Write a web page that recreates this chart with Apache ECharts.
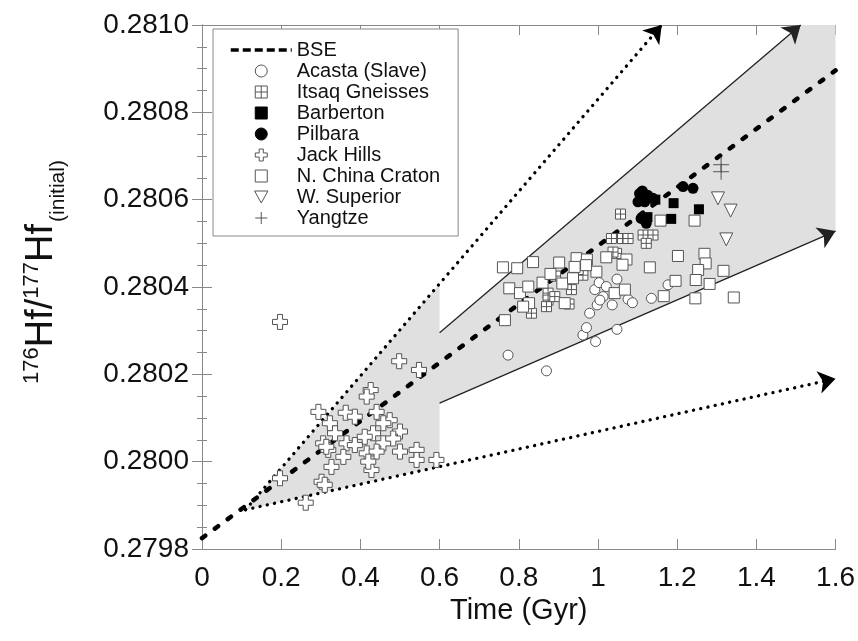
<!DOCTYPE html>
<html>
<head>
<meta charset="utf-8">
<script src="https://cdn.jsdelivr.net/npm/echarts@6/dist/echarts.min.js"></script>
<style>html,body{margin:0;padding:0;background:#fff;}#c{width:858px;height:641px;}</style>
</head>
<body>
<div id="c"></div>
<script>
// ---- axis ticks ----
const xTicks = [0, 0.2, 0.4, 0.6, 0.8, 1, 1.2, 1.4, 1.6];
const yTicks = [0.2798, 0.2800, 0.2802, 0.2804, 0.2806, 0.2808, 0.2810];

// ---- reference lines ----
const bseT = [0, 1.6];
const bseV = [0.279825, 0.280896];
const upperDotT = [0.11, 1.161];
const upperDotV = [0.27989, 0.2810];
const lowerDotT = [0.11, 1.6];
const lowerDotV = [0.27989, 0.28019];
const upperSolidT = [0.6, 1.512];
const upperSolidV = [0.280295, 0.2810];
const lowerSolidT = [0.6, 1.6];
const lowerSolidV = [0.280134, 0.280528];

// ---- shaded field (polygon vertices) ----
const fanT = [0.11, 0.6, 0.6, 1.512, 1.6, 1.6, 0.6, 0.6];
const fanV = [0.27989, 0.280407, 0.280295, 0.2810, 0.2810, 0.280528, 0.280134, 0.27999];

// ---- data sets ----
const acastaT = [0.773, 0.870, 0.962, 0.971, 0.994, 1.048, 0.979, 0.998, 1.013, 1.036, 0.992, 1.003, 1.048, 1.021, 1.076, 1.087, 1.135, 1.177, 1.005];
const acastaV = [0.280244, 0.280208, 0.280290, 0.280307, 0.280275, 0.280303, 0.280340, 0.280359, 0.280378, 0.280359, 0.280394, 0.280410, 0.280418, 0.280401, 0.280372, 0.280364, 0.280374, 0.280405, 0.280370];

const itsaqT = [1.057, 1.062, 1.076, 1.114, 1.139, 1.122, 1.047, 0.893, 0.962, 0.933, 0.874, 0.874, 0.891, 0.927, 0.832, 0.870, 1.034, 1.038, 0.950];
const itsaqV = [0.280567, 0.280511, 0.280511, 0.280519, 0.280519, 0.280500, 0.280477, 0.280425, 0.280427, 0.280394, 0.280386, 0.280370, 0.280378, 0.280361, 0.280340, 0.280355, 0.280511, 0.280480, 0.280440];

const barbertonT = [1.191, 1.255, 1.185, 1.125, 1.145];
const barbertonV = [0.280592, 0.280578, 0.280556, 0.280560, 0.280600];

const pilbaraT = [1.105, 1.126, 1.101, 1.139, 1.118, 1.109, 1.122, 1.215, 1.240, 1.112];
const pilbaraV = [0.280614, 0.280610, 0.280595, 0.280603, 0.280595, 0.280557, 0.280546, 0.280630, 0.280626, 0.280620];

const jackT = [0.197, 0.498, 0.548, 0.426, 0.416, 0.294, 0.363, 0.386, 0.441, 0.474, 0.323, 0.336, 0.500, 0.432, 0.411, 0.306, 0.365, 0.386, 0.458, 0.483, 0.319, 0.357, 0.416, 0.441, 0.500, 0.542, 0.542, 0.592, 0.428, 0.327, 0.197, 0.302, 0.310, 0.262, 0.420, 0.458, 0.314];
const jackV = [0.280320, 0.280230, 0.280210, 0.280164, 0.280149, 0.280114, 0.280112, 0.280103, 0.280114, 0.280095, 0.280088, 0.280065, 0.280069, 0.280065, 0.280057, 0.280042, 0.280042, 0.280038, 0.280042, 0.280053, 0.280027, 0.280011, 0.280019, 0.280023, 0.280023, 0.280027, 0.280004, 0.280004, 0.279981, 0.279988, 0.279962, 0.279954, 0.279947, 0.279906, 0.280000, 0.280088, 0.280034];

const chinaT = [0.760, 0.796, 0.836, 0.902, 0.946, 0.972, 1.021, 1.072, 1.131, 1.202, 1.269, 1.272, 1.253, 1.317, 1.196, 1.247, 1.282, 1.166, 1.246, 1.343, 1.158, 1.244, 0.776, 0.803, 0.824, 0.826, 0.811, 0.765, 0.916, 0.910, 0.937, 0.941, 0.996, 1.042, 1.068, 1.062, 0.970, 0.860, 0.880];
const chinaV = [0.280445, 0.280443, 0.280457, 0.280456, 0.280466, 0.280463, 0.280468, 0.280463, 0.280445, 0.280471, 0.280476, 0.280454, 0.280439, 0.280437, 0.280414, 0.280416, 0.280407, 0.280379, 0.280374, 0.280376, 0.280552, 0.280552, 0.280397, 0.280386, 0.280401, 0.280363, 0.280355, 0.280324, 0.280363, 0.280408, 0.280420, 0.280446, 0.280435, 0.280386, 0.280394, 0.280451, 0.280450, 0.280410, 0.280430];

const superiorT = [1.303, 1.335, 1.324];
const superiorV = [0.280603, 0.280575, 0.280509];

const yangtzeT = [1.311, 1.311];
const yangtzeV = [0.280680, 0.280664];

const names = ['BSE', 'Acasta (Slave)', 'Itsaq Gneisses', 'Barberton', 'Pilbara', 'Jack Hills', 'N. China Craton', 'W. Superior', 'Yangtze'];

// ---- helpers ----
const zip = (a, b) => a.map((t, i) => [t, b[i]]);
const FONT = 'Liberation Sans, Arial, Helvetica, sans-serif';
const GRAY = '#555';
const AX = '#888';
const SQUARE = 'path://M0,0H10V10H0Z';

const chart = echarts.init(document.getElementById('c'), null, {renderer: 'canvas'});

function arrowLine(T, V, style) {
  return {
    type: 'lines', coordinateSystem: 'cartesian2d', silent: true, clip: false, z: 4,
    symbol: ['none', 'arrow'], symbolSize: 17,
    lineStyle: Object.assign({color: '#000', opacity: 1}, style),
    data: [{coords: zip(T, V)}]
  };
}

function openScatter(name, T, V, symbol, size, fill) {
  return {
    name, type: 'scatter', z: 6, silent: true,
    symbol, symbolSize: size,
    itemStyle: {color: fill === undefined ? '#fff' : fill, borderColor: GRAY, borderWidth: 1, opacity: 1},
    data: zip(T, V)
  };
}

const tickStyle = {color: AX, width: 1};

const option = {
  animation: false,
  backgroundColor: '#fff',
  grid: {left: 202, right: 22, top: 25, bottom: 92, containLabel: false},
  xAxis: [{
    type: 'value', position: 'bottom', min: xTicks[0], max: xTicks[xTicks.length - 1], interval: 0.2,
    axisLine: {show: true, lineStyle: tickStyle},
    axisTick: {show: true, inside: true, length: 10, lineStyle: tickStyle},
    axisLabel: {fontSize: 28, color: '#111', fontFamily: FONT, margin: 15},
    splitLine: {show: false},
    name: 'Time (Gyr)', nameLocation: 'middle', nameGap: 43,
    nameTextStyle: {fontSize: 29, color: '#111', fontFamily: FONT}
  }, {
    type: 'value', position: 'top', min: xTicks[0], max: xTicks[xTicks.length - 1], interval: 0.2,
    axisLine: {show: true, lineStyle: tickStyle},
    axisTick: {show: true, inside: true, length: 10, lineStyle: tickStyle},
    axisLabel: {show: false}, splitLine: {show: false}
  }],
  yAxis: [{
    type: 'value', position: 'left', min: yTicks[0], max: yTicks[yTicks.length - 1], interval: 0.0002,
    axisLine: {show: true, lineStyle: tickStyle},
    axisTick: {show: true, inside: true, length: 10, lineStyle: tickStyle},
    minorTick: {show: true, splitNumber: 4, length: 5, lineStyle: tickStyle},
    axisLabel: {fontSize: 28, color: '#111', fontFamily: FONT, margin: 13, formatter: v => v.toFixed(4)},
    splitLine: {show: false}, minorSplitLine: {show: false}
  }, {
    type: 'value', position: 'right', min: yTicks[0], max: yTicks[yTicks.length - 1], interval: 0.0002,
    axisLine: {show: true, lineStyle: tickStyle},
    axisTick: {show: true, inside: true, length: 10, lineStyle: tickStyle},
    minorTick: {show: true, splitNumber: 4, length: 5, lineStyle: tickStyle},
    axisLabel: {show: false}, splitLine: {show: false}, minorSplitLine: {show: false}
  }],
  legend: {
    orient: 'vertical', left: 213, top: 29,
    padding: [11, 18, 8, 16],
    itemWidth: 61, itemHeight: 12, itemGap: 1,
    backgroundColor: '#fff', borderColor: AX, borderWidth: 1, borderRadius: 0,
    selectedMode: false,
    itemStyle: {borderWidth: 1},
    textStyle: {fontSize: 20, color: '#111', fontFamily: FONT, lineHeight: 20},
    data: [
      {name: names[0], itemStyle: {opacity: 0, borderWidth: 0}, lineStyle: {width: 3.5, type: [8, 4], cap: 'butt', color: '#000'}},
      names[1], names[2], names[3], names[4], names[5], names[6], names[7], names[8]
    ]
  },
  graphic: [{
    type: 'text', x: 42, y: 272, rotation: Math.PI / 2, silent: true,
    style: {
      text: '{sup|176}{m|Hf/}{sup|177}{m|Hf}{sub|(initial)}',
      align: 'center', verticalAlign: 'middle', fill: '#111',
      rich: {
        m: {fontSize: 38, fontFamily: FONT, fill: '#111', lineHeight: 54, verticalAlign: 'middle'},
        sup: {fontSize: 22, fontFamily: FONT, fill: '#111', lineHeight: 22, verticalAlign: 'top', padding: [6, 0, 0, 0]},
        sub: {fontSize: 21, fontFamily: FONT, fill: '#111', lineHeight: 21, verticalAlign: 'bottom', padding: [0, 0, 0, 2]}
      }
    }
  }],
  series: [
    {
      type: 'custom', name: 'field', silent: true, z: 1, clip: false,
      data: zip(fanT, fanV),
      encode: {x: 0, y: 1},
      renderItem: function (params, api) {
        if (params.dataIndex !== 0) return null;
        const pts = fanT.map((t, i) => api.coord([t, fanV[i]]));
        return {type: 'polygon', shape: {points: pts}, style: {fill: '#e0e0e0', stroke: null}};
      }
    },
    arrowLine(upperDotT, upperDotV, {width: 3.3, type: [0.1, 7.3], cap: 'round'}),
    arrowLine(lowerDotT, lowerDotV, {width: 3.3, type: [0.1, 7.3], cap: 'round'}),
    arrowLine(upperSolidT, upperSolidV, {width: 1.3, type: 'solid', color: '#222'}),
    arrowLine(lowerSolidT, lowerSolidV, {width: 1.3, type: 'solid', color: '#222'}),
    {
      name: names[0], type: 'line', z: 5, silent: true, symbol: 'none', showSymbol: false,
      lineStyle: {color: '#000', width: 4.5, type: [4, 12], cap: 'round'},
      itemStyle: {color: '#000'},
      data: zip(bseT, bseV)
    },
    openScatter(names[1], acastaT, acastaV, 'circle', 10),
    openScatter(names[2], itsaqT, itsaqV, 'path://M0,0H10V10H0Z M5,0V10 M0,5H10', 10),
    {name: names[3], type: 'scatter', z: 7, silent: true, symbol: SQUARE, symbolSize: 10,
      itemStyle: {color: '#000', borderColor: '#000', borderWidth: 0, opacity: 1}, data: zip(barbertonT, barbertonV)},
    {name: names[4], type: 'scatter', z: 7, silent: true, symbol: 'circle', symbolSize: 11,
      itemStyle: {color: '#000', borderColor: '#000', borderWidth: 0, opacity: 1}, data: zip(pilbaraT, pilbaraV)},
    openScatter(names[5], jackT, jackV, 'path://M3.3,0H6.7V3.3H10V6.7H6.7V10H3.3V6.7H0V3.3H3.3Z', 15),
    openScatter(names[6], chinaT, chinaV, SQUARE, 11),
    openScatter(names[7], superiorT, superiorV, 'path://M0,0H10L5,9Z', 13),
    openScatter(names[8], yangtzeT, yangtzeV, 'path://M5,0V10M0,5H10', 16, 'rgba(0,0,0,0)')
  ]
};
chart.setOption(option);
</script>
</body>
</html>
